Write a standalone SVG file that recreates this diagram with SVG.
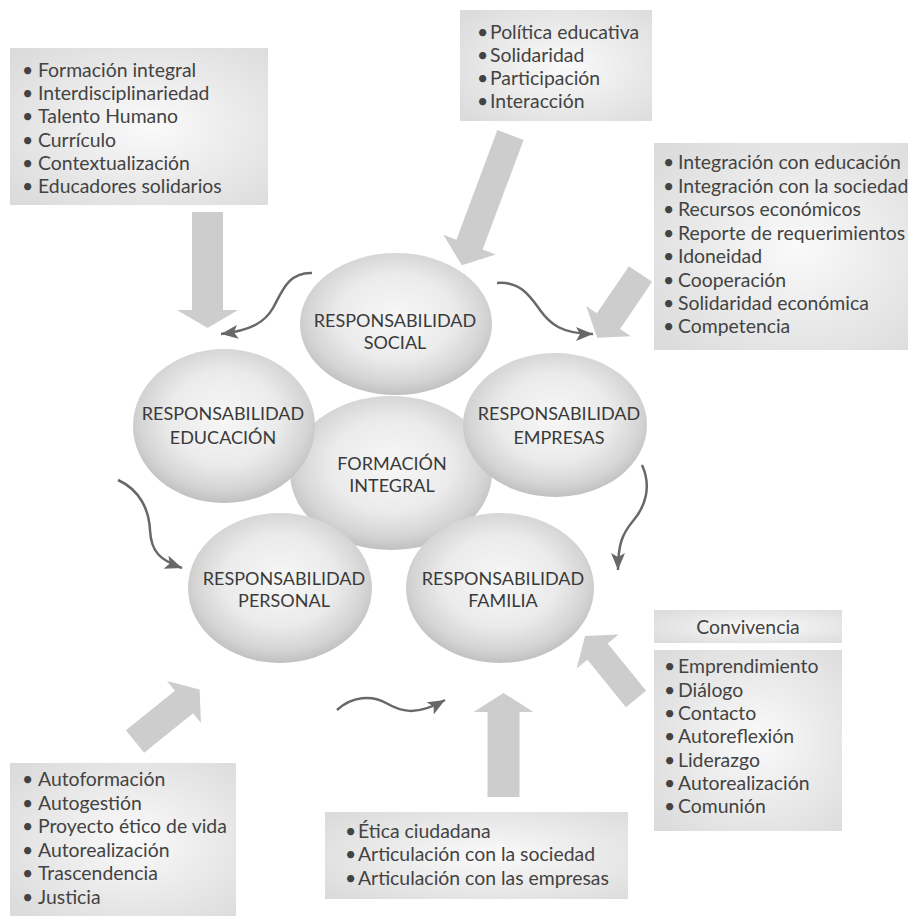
<svg xmlns="http://www.w3.org/2000/svg" width="908" height="916" viewBox="0 0 908 916">
<defs>
<radialGradient id="gBall" cx="50%" cy="45%" r="55%">
<stop offset="0" stop-color="#f7f7f7"/>
<stop offset="0.55" stop-color="#ebebeb"/>
<stop offset="0.85" stop-color="#d4d4d4"/>
<stop offset="1" stop-color="#c0c0c0"/>
</radialGradient>
<radialGradient id="gBox" cx="55%" cy="50%" r="70%">
<stop offset="0" stop-color="#fafafa"/>
<stop offset="1" stop-color="#dbdbdb"/>
</radialGradient>
<marker id="ah" markerUnits="userSpaceOnUse" markerWidth="20" markerHeight="16" refX="17" refY="7" orient="auto">
<path d="M0,0 L17,7 L0,14 L4,7 z" fill="#686868"/>
</marker>
<style>
.box{fill:url(#gBox)}
.ball{fill:url(#gBall)}
.lt{font-family:Lato,"Liberation Sans",sans-serif;font-size:19.4px;fill:#434343}
.bt{font-family:Lato,"Liberation Sans",sans-serif;font-size:18px;fill:#3a3a3a;text-anchor:middle}
.blk{fill:#cdcdcd}
.crv{fill:none;stroke:#686868;stroke-width:2.5;marker-end:url(#ah)}
</style>
</defs>
<rect width="908" height="916" fill="#ffffff"/>

<g id="block-arrows">
<polygon class="blk" transform="translate(207.5,212) rotate(90)" points="0,-15.5 98,-15.5 98,-30.5 116,0 98,30.5 98,15.5 0,15.5"/>
<polygon class="blk" transform="translate(510.5,135) rotate(110.5)" points="0,-14 117,-14 117,-28 139,0 117,28 117,14 0,14"/>
<polygon class="blk" transform="translate(640.5,274) rotate(124.2)" points="0,-14 57,-14 57,-27 77,0 57,27 57,14 0,14"/>
<polygon class="blk" transform="translate(135,741.5) rotate(-38.9)" points="0,-14.5 63,-14.5 63,-27 83,0 63,27 63,14.5 0,14.5"/>
<polygon class="blk" transform="translate(503.5,797) rotate(-90)" points="0,-16 85,-16 85,-30 104,0 85,30 85,16 0,16"/>
<polygon class="blk" transform="translate(636,699) rotate(-129)" points="0,-13 61,-13 61,-27 81,0 61,27 61,13 0,13"/>
</g>

<g id="connectors">
<path class="crv" d="M312,273 C288,272 282,292 273,308 C265,322 252,330 221,334"/>
<path class="crv" d="M497,283 C520,281 530,296 540,310 C550,324 562,334 593,334"/>
<path class="crv" d="M642,465 C652,487 645,507 633,521 C622,534 618,545 618,570"/>
<path class="crv" d="M118,480 C140,490 149,510 150,530 C151,552 160,560 182,568"/>
<path class="crv" d="M337,710 C352,696 372,695 386,703 C400,711 415,717 445,700"/>
</g>

<g id="node-formacion">
<ellipse class="ball" cx="391" cy="473" rx="101" ry="77"/>
<text class="bt" x="392" y="470">FORMACIÓN</text>
<text class="bt" x="392" y="492">INTEGRAL</text>
</g>
<g id="node-social">
<ellipse class="ball" cx="396" cy="324" rx="96" ry="71"/>
<text class="bt" x="395" y="327">RESPONSABILIDAD</text>
<text class="bt" x="395" y="349">SOCIAL</text>
</g>
<g id="node-educacion">
<ellipse class="ball" cx="224" cy="426" rx="91" ry="77"/>
<text class="bt" x="223" y="420">RESPONSABILIDAD</text>
<text class="bt" x="223" y="444">EDUCACIÓN</text>
</g>
<g id="node-empresas">
<ellipse class="ball" cx="555" cy="425" rx="92" ry="72"/>
<text class="bt" x="559" y="420">RESPONSABILIDAD</text>
<text class="bt" x="559" y="444">EMPRESAS</text>
</g>
<g id="node-personal">
<ellipse class="ball" cx="280" cy="588" rx="92" ry="75"/>
<text class="bt" x="284" y="585">RESPONSABILIDAD</text>
<text class="bt" x="284" y="607">PERSONAL</text>
</g>
<g id="node-familia">
<ellipse class="ball" cx="500" cy="588" rx="94" ry="75"/>
<text class="bt" x="503" y="585">RESPONSABILIDAD</text>
<text class="bt" x="503" y="607">FAMILIA</text>
</g>

<g id="box-educacion">
<rect class="box" x="10" y="48" width="258" height="157"/>
<text class="lt" y="77"><tspan x="22">•</tspan><tspan x="38">Formación integral</tspan></text>
<text class="lt" y="100"><tspan x="22">•</tspan><tspan x="38">Interdisciplinariedad</tspan></text>
<text class="lt" y="123"><tspan x="22">•</tspan><tspan x="38">Talento Humano</tspan></text>
<text class="lt" y="147"><tspan x="22">•</tspan><tspan x="38">Currículo</tspan></text>
<text class="lt" y="170"><tspan x="22">•</tspan><tspan x="38">Contextualización</tspan></text>
<text class="lt" y="193"><tspan x="22">•</tspan><tspan x="38">Educadores solidarios</tspan></text>
</g>

<g id="box-social">
<rect class="box" x="460" y="10" width="192" height="111"/>
<text class="lt" y="39"><tspan x="477">•</tspan><tspan x="490">Política educativa</tspan></text>
<text class="lt" y="62"><tspan x="477">•</tspan><tspan x="490">Solidaridad</tspan></text>
<text class="lt" y="85"><tspan x="477">•</tspan><tspan x="490">Participación</tspan></text>
<text class="lt" y="108"><tspan x="477">•</tspan><tspan x="490">Interacción</tspan></text>
</g>

<g id="box-empresas">
<rect class="box" x="654" y="143" width="260" height="207"/>
<text class="lt" y="169"><tspan x="663">•</tspan><tspan x="678">Integración con educación</tspan></text>
<text class="lt" y="193"><tspan x="663">•</tspan><tspan x="678">Integración con la sociedad</tspan></text>
<text class="lt" y="216"><tspan x="663">•</tspan><tspan x="678">Recursos económicos</tspan></text>
<text class="lt" y="240"><tspan x="663">•</tspan><tspan x="678">Reporte de requerimientos</tspan></text>
<text class="lt" y="263"><tspan x="663">•</tspan><tspan x="678">Idoneidad</tspan></text>
<text class="lt" y="287"><tspan x="663">•</tspan><tspan x="678">Cooperación</tspan></text>
<text class="lt" y="310"><tspan x="663">•</tspan><tspan x="678">Solidaridad económica</tspan></text>
<text class="lt" y="333"><tspan x="663">•</tspan><tspan x="678">Competencia</tspan></text>
</g>

<g id="box-personal">
<rect class="box" x="10" y="763" width="226" height="153"/>
<text class="lt" y="786"><tspan x="22">•</tspan><tspan x="38">Autoformación</tspan></text>
<text class="lt" y="810"><tspan x="22">•</tspan><tspan x="38">Autogestión</tspan></text>
<text class="lt" y="833"><tspan x="22">•</tspan><tspan x="38">Proyecto ético de vida</tspan></text>
<text class="lt" y="857"><tspan x="22">•</tspan><tspan x="38">Autorealización</tspan></text>
<text class="lt" y="880"><tspan x="22">•</tspan><tspan x="38">Trascendencia</tspan></text>
<text class="lt" y="904"><tspan x="22">•</tspan><tspan x="38">Justicia</tspan></text>
</g>

<g id="box-ciudadana">
<rect class="box" x="325" y="812" width="303" height="87"/>
<text class="lt" y="838"><tspan x="345">•</tspan><tspan x="358">Ética ciudadana</tspan></text>
<text class="lt" y="861"><tspan x="345">•</tspan><tspan x="358">Articulación con la sociedad</tspan></text>
<text class="lt" y="885"><tspan x="345">•</tspan><tspan x="358">Articulación con las empresas</tspan></text>
</g>

<g id="box-familia">
<rect class="box" x="654" y="610" width="188" height="33"/>
<text class="lt" x="748" y="634" text-anchor="middle">Convivencia</text>
<rect class="box" x="654" y="650" width="188" height="181"/>
<text class="lt" y="673"><tspan x="664">•</tspan><tspan x="678">Emprendimiento</tspan></text>
<text class="lt" y="697"><tspan x="664">•</tspan><tspan x="678">Diálogo</tspan></text>
<text class="lt" y="720"><tspan x="664">•</tspan><tspan x="678">Contacto</tspan></text>
<text class="lt" y="743"><tspan x="664">•</tspan><tspan x="678">Autoreflexión</tspan></text>
<text class="lt" y="767"><tspan x="664">•</tspan><tspan x="678">Liderazgo</tspan></text>
<text class="lt" y="790"><tspan x="664">•</tspan><tspan x="678">Autorealización</tspan></text>
<text class="lt" y="813"><tspan x="664">•</tspan><tspan x="678">Comunión</tspan></text>
</g>
</svg>
